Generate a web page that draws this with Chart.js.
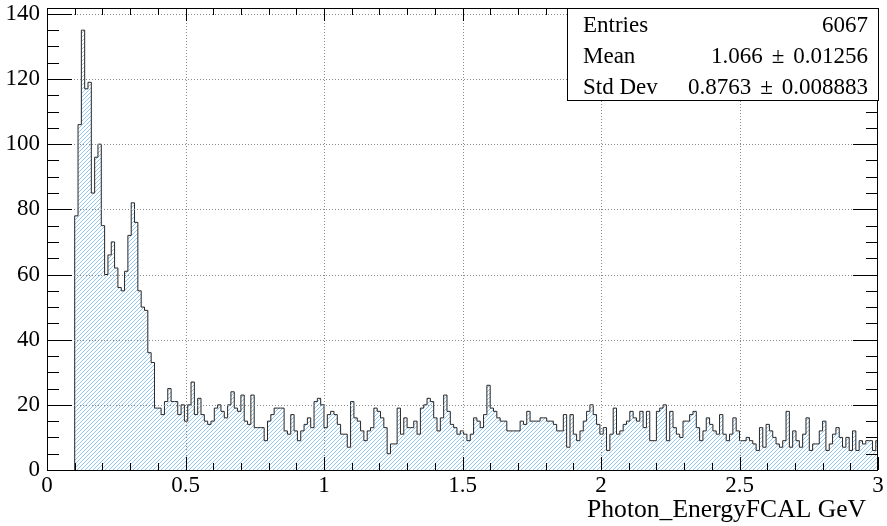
<!DOCTYPE html>
<html>
<head>
<meta charset="utf-8">
<script src="https://cdn.jsdelivr.net/npm/chart.js@4.4.0/dist/chart.umd.min.js"></script>
<style>
  html, body { margin: 0; padding: 0; background: #fff; }
  #wrap { width: 887px; height: 526px; position: relative; }
</style>
</head>
<body>
<div id="wrap"><canvas id="c" width="887" height="526"></canvas></div>
<script>
// Histogram binning: fixed-width bins, first filled bin starts at binLow
const binLow = 0.1;
const binWidth = 0.012;

// Bin contents, low energy to high energy
const countsLow = [78,106,135,117,119,85,96,100,75,60,66,70,62,56,55,61,72,82,76,55,50,49,36,33];
const countsMidA = [19,19,17,21,25,21,21,17,20,15,20,27,17,22,17,15,14,15,19,20,18,16,20,24,19,18,
                    23,15,14,23,13,13,13,9,15,17,19,19,19,12,11,17,12,9,12,14,16,13,21,22,20];
const countsMidB = [13,17,18,17,14,11,11,7,21,16,15,12,9,12,13,19,18,16,13,5,8,8,19,11,16,13,
                    13,15,11,19,20,22,21,16,12,16,23,18,14,13,11,12,11,9,11,16,15,13,17,26,19];
const countsHighA = [18,16,15,15,12,12,12,12,15,14,18,15,15,15,16,16,15,15,14,12,12,17,7,17,11,9,
                     12,15,18,20,17,14,11,13,6,11,19,11,12,14,15,18,16,15,18,13,18,9,9,18,19,20];
const countsHighB = [9,18,13,11,10,15,15,17,18,13,9,12,16,14,12,11,17,11,9,11,16,12,9,9,10,
                     9,8,6,13,7,14,12,10,8,7,9,18,7,12,9,7,11,16,6,8,8,12,15,6,8,11,
                     13,10,7,10,6,12,6,9,8,9,9,6,9];
const counts = [...countsLow, ...countsMidA, ...countsMidB, ...countsHighA, ...countsHighB];

// Axis ranges, tick values and labels
const xRange = [0, 3];
const yRange = [0, 141.8];
const yTickValues = [0, 20, 40, 60, 80, 100, 120, 140];
const xTitle = 'Photon_EnergyFCAL GeV';

// Statistics box: name, value, uncertainty
const statNames = ['Entries', 'Mean', 'Std Dev'];
const statValues = ['6067', '1.066', '0.8763'];
const statErrors = [null, '0.01256', '0.008883'];

const SERIF = '"Liberation Serif", "DejaVu Serif", serif';
const HATCH = '#93c8f3';

// Step outline through bin edges: closed at both ends down to zero
function histPoints() {
  const pts = [{ x: binLow, y: 0 }];
  counts.forEach((v, i) => pts.push({ x: binLow + i * binWidth, y: v }));
  const hi = binLow + counts.length * binWidth;
  pts.push({ x: hi, y: counts[counts.length - 1] });
  pts.push({ x: hi, y: 0 });
  return pts;
}

// Diagonal hatching under the histogram, clipped to its stepped outline
const hatchFill = {
  id: 'hatchFill',
  beforeDatasetsDraw(chart) {
    const { ctx, chartArea: a, scales: { y } } = chart;
    const pts = chart.getDatasetMeta(0).data;
    if (!pts.length) return;
    const base = y.getPixelForValue(0);
    ctx.save();
    ctx.beginPath();
    ctx.rect(a.left, a.top, a.right - a.left, a.bottom - a.top);
    ctx.clip();
    ctx.beginPath();
    ctx.moveTo(pts[0].x, base);
    for (let i = 0; i < pts.length; i++) {
      if (i > 0) ctx.lineTo(pts[i].x, pts[i].y);
      if (i + 1 < pts.length) ctx.lineTo(pts[i + 1].x, pts[i].y);
    }
    ctx.lineTo(pts[pts.length - 1].x, base);
    ctx.closePath();
    ctx.clip();
    ctx.strokeStyle = HATCH;
    ctx.lineWidth = 1;
    ctx.beginPath();
    const step = 4;
    const h = a.bottom - a.top;
    for (let sx = a.left - h; sx < a.right + step; sx += step) {
      ctx.moveTo(sx, a.bottom);
      ctx.lineTo(sx + h, a.top);
    }
    ctx.stroke();
    ctx.restore();
  }
};

// Frame, dotted grid, inward ticks on all sides, stats box and axis title
const rootStyle = {
  id: 'rootStyle',
  afterDatasetsDraw(chart) {
    const { ctx, chartArea: a, scales: { x, y } } = chart;
    ctx.save();
    // grid
    ctx.strokeStyle = '#8a8a8a';
    ctx.lineWidth = 1;
    ctx.setLineDash([1, 2]);
    ctx.beginPath();
    for (let v = 0.5; v < xRange[1] - 1e-6; v += 0.5) {
      const px = Math.round(x.getPixelForValue(v)) + 0.5;
      ctx.moveTo(px, a.top); ctx.lineTo(px, a.bottom);
    }
    yTickValues.filter(v => v > 0).forEach(v => {
      const py = Math.round(y.getPixelForValue(v)) + 0.5;
      ctx.moveTo(a.left, py); ctx.lineTo(a.right, py);
    });
    ctx.stroke();
    ctx.setLineDash([]);

    // ticks
    ctx.strokeStyle = '#000';
    ctx.beginPath();
    for (let k = 0; k <= 30; k++) {
      const px = Math.round(x.getPixelForValue(k / 10)) + 0.5;
      const len = (k % 5 === 0) ? 13 : 7;
      ctx.moveTo(px, a.bottom); ctx.lineTo(px, a.bottom - len);
      ctx.moveTo(px, a.top); ctx.lineTo(px, a.top + len);
    }
    for (let k = 0; k * 5 <= yRange[1]; k++) {
      const py = Math.round(y.getPixelForValue(k * 5)) + 0.5;
      const len = (k % 4 === 0) ? 25 : 12;
      ctx.moveTo(a.left, py); ctx.lineTo(a.left + len, py);
      ctx.moveTo(a.right, py); ctx.lineTo(a.right - len, py);
    }
    ctx.stroke();

    // frame
    ctx.strokeRect(Math.round(a.left) + 0.5, Math.round(a.top) + 0.5,
                   Math.round(a.right - a.left) - 1, Math.round(a.bottom - a.top));

    // stats box
    const bx = 567.5, by = 8.5, bw = 311, bh = 92;
    ctx.fillStyle = '#fff';
    ctx.fillRect(bx, by, bw, bh);
    ctx.strokeRect(bx, by, bw, bh);
    ctx.fillStyle = '#000';
    ctx.font = '23px ' + SERIF;
    ctx.textBaseline = 'middle';
    const gap = 9;
    statNames.forEach((n, i) => {
      const ty = 26 + i * 31;
      ctx.textAlign = 'left';
      ctx.fillText(n, 583, ty);
      ctx.textAlign = 'right';
      let xr = 868;
      if (statErrors[i]) {
        ctx.fillText(statErrors[i], xr, ty);
        xr -= ctx.measureText(statErrors[i]).width + gap;
        ctx.fillText('\u00b1', xr, ty);
        xr -= ctx.measureText('\u00b1').width + gap;
      }
      ctx.fillText(statValues[i], xr, ty);
    });

    // x axis title
    ctx.font = '25.6px ' + SERIF;
    ctx.textAlign = 'right';
    ctx.textBaseline = 'middle';
    ctx.fillText(xTitle, 866, 510);
    ctx.restore();
  }
};

const ctx = document.getElementById('c').getContext('2d');
new Chart(ctx, {
  type: 'line',
  data: {
    datasets: [{
      data: histPoints(),
      stepped: 'before',
      borderColor: '#262626',
      borderWidth: 1,
      fill: false,
      pointRadius: 0,
      tension: 0
    }]
  },
  options: {
    responsive: false,
    devicePixelRatio: 1,
    animation: false,
    layout: { padding: { top: 8, right: 9, left: 0, bottom: 0 } },
    plugins: { legend: { display: false }, tooltip: { enabled: false } },
    scales: {
      x: {
        type: 'linear',
        min: xRange[0], max: xRange[1],
        grid: { display: false, drawTicks: false },
        border: { display: false },
        ticks: {
          stepSize: 0.5,
          padding: 2,
          color: '#000',
          font: { family: SERIF, size: 23 },
          maxRotation: 0,
          autoSkip: false,
          callback: v => String(+v.toFixed(2))
        },
        afterFit(s) { s.height = 56; s.paddingLeft = 0; s.paddingRight = 0; }
      },
      y: {
        min: yRange[0], max: yRange[1],
        grid: { display: false, drawTicks: false },
        border: { display: false },
        afterBuildTicks(s) { s.ticks = yTickValues.map(v => ({ value: v })); },
        ticks: {
          padding: 7,
          autoSkip: false,
          color: '#000',
          font: { family: SERIF, size: 23 }
        },
        afterFit(s) { s.width = 47; s.paddingTop = 0; s.paddingBottom = 0; }
      }
    }
  },
  plugins: [hatchFill, rootStyle]
});
</script>
</body>
</html>
